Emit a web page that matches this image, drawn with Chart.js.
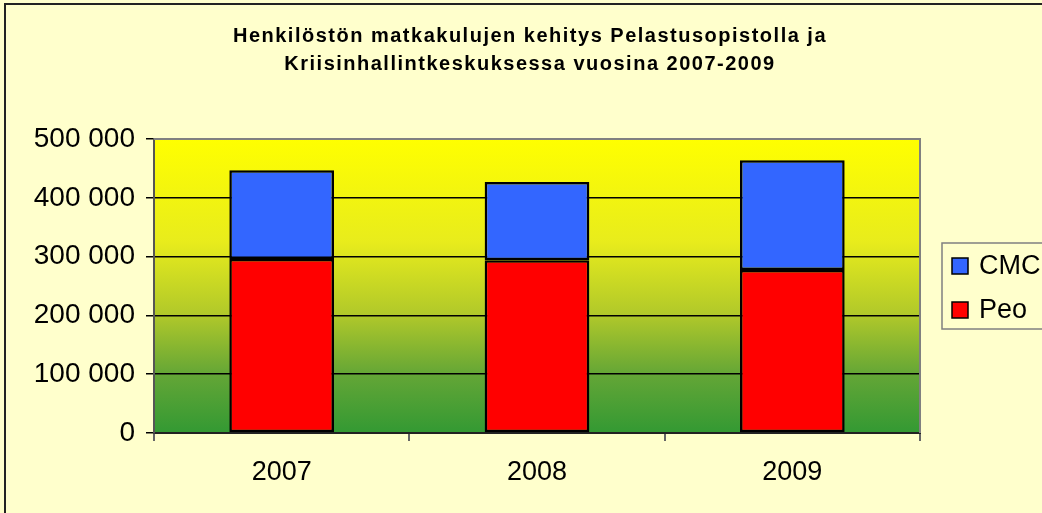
<!DOCTYPE html>
<html>
<head>
<meta charset="utf-8">
<script src="https://cdn.jsdelivr.net/npm/chart.js@4"></script>
<style>
  html, body { margin: 0; padding: 0; background: #FFFFCC; }
  #wrap { width: 1042px; height: 513px; }
</style>
</head>
<body>
<div id="wrap"><canvas id="c" width="1042" height="513"></canvas></div>
<script>
const categories = ['2007', '2008', '2009'];
const peoValues = [296000, 294000, 277000];
const cmcValues = [151000, 133000, 187000];
const seriesNames = ['Peo', 'CMC'];
const titleLines = ['Henkilöstön matkakulujen kehitys Pelastusopistolla ja', 'Kriisinhallintkeskuksessa vuosina 2007-2009'];
const yTicks = [0, 100000, 200000, 300000, 400000, 500000];

const FONT = '"Liberation Sans", Arial, sans-serif';

function fmt(v) {
  return String(v).replace(/\B(?=(\d{3})+(?!\d))/g, ' ');
}

const decor = {
  id: 'decor',
  beforeDraw(chart) {
    const ctx = chart.ctx;
    const a = chart.chartArea;
    ctx.save();
    ctx.fillStyle = '#FFFFCC';
    ctx.fillRect(0, 0, chart.width, chart.height);
    ctx.strokeStyle = '#222';
    ctx.lineWidth = 2;
    ctx.strokeRect(5, 4, chart.width + 20, chart.height + 20);
    // plot area gradient
    const g = ctx.createLinearGradient(0, a.top, 0, a.bottom);
    g.addColorStop(0, '#FFFF00');
    g.addColorStop(0.35, '#E8EC1C');
    g.addColorStop(0.6, '#B0C82A');
    g.addColorStop(0.8, '#64A636');
    g.addColorStop(1, '#339933');
    ctx.fillStyle = g;
    ctx.fillRect(a.left, a.top, a.right - a.left, a.bottom - a.top);
    // title
    ctx.fillStyle = '#000';
    ctx.font = 'bold 20px ' + FONT;
    ctx.textAlign = 'center';
    ctx.textBaseline = 'alphabetic';
    try { ctx.letterSpacing = '1.5px'; } catch (e) {}
    ctx.fillText(titleLines[0], 530, 42);
    ctx.fillText(titleLines[1], 530, 70);
    try { ctx.letterSpacing = '0px'; } catch (e) {}
    ctx.restore();
  },
  afterDraw(chart) {
    const ctx = chart.ctx;
    const a = chart.chartArea;
    ctx.save();
    ctx.strokeStyle = '#808080';
    ctx.lineWidth = 2;
    ctx.beginPath();
    ctx.moveTo(a.left, a.top);
    ctx.lineTo(a.right, a.top);
    ctx.lineTo(a.right, a.bottom);
    ctx.stroke();
    // legend
    ctx.strokeStyle = '#808080';
    ctx.lineWidth = 1.5;
    ctx.strokeRect(942, 243, 140, 86);
    const items = chart.data.datasets.slice().reverse();
    ctx.font = '27px ' + FONT;
    ctx.textAlign = 'left';
    ctx.textBaseline = 'middle';
    items.forEach((ds, i) => {
      const cy = 266 + i * 44;
      ctx.fillStyle = ds.backgroundColor;
      ctx.fillRect(952, cy - 8, 16, 16);
      ctx.strokeStyle = '#000';
      ctx.lineWidth = 1.5;
      ctx.strokeRect(952, cy - 8, 16, 16);
      ctx.fillStyle = '#000';
      ctx.fillText(ds.label, 979, cy + 1);
    });
    ctx.restore();
  }
};

new Chart(document.getElementById('c'), {
  type: 'bar',
  data: {
    labels: categories,
    datasets: [
      { label: seriesNames[0], data: peoValues, backgroundColor: '#FF0000', borderColor: '#000', borderWidth: 2.5, borderSkipped: false },
      { label: seriesNames[1], data: cmcValues, backgroundColor: '#3366FF', borderColor: '#000', borderWidth: 2.5, borderSkipped: false }
    ]
  },
  options: {
    responsive: false,
    animation: false,
    devicePixelRatio: 1,
    layout: { padding: { top: 139, right: 122, left: 0, bottom: 0 } },
    plugins: { legend: { display: false }, title: { display: false }, tooltip: { enabled: false } },
    datasets: { bar: { barPercentage: 1, categoryPercentage: 0.41 } },
    scales: {
      x: {
        stacked: true,
        afterFit: s => { s.height = 80; },
        grid: { offset: true, drawOnChartArea: false, tickLength: 8, color: '#666', lineWidth: 2 },
        border: { color: '#222', width: 2 },
        ticks: { font: { family: FONT, size: 27 }, color: '#000', padding: 15 }
      },
      y: {
        stacked: true,
        min: 0, max: 500000,
        afterFit: s => { s.width = 154; },
        afterBuildTicks: s => { s.ticks = yTicks.map(v => ({ value: v })); },
        grid: { color: '#000', lineWidth: 1.5, tickLength: 8 },
        border: { color: '#555', width: 2 },
        ticks: { font: { family: FONT, size: 28 }, color: '#000', padding: 11, callback: v => fmt(v) }
      }
    }
  },
  plugins: [decor]
});
</script>
</body>
</html>
